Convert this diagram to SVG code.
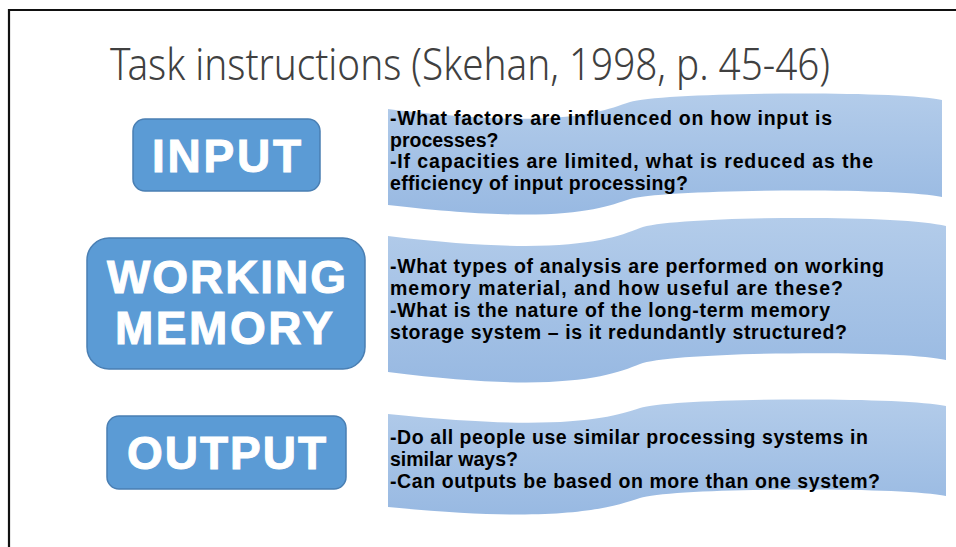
<svg xmlns="http://www.w3.org/2000/svg" width="956" height="547" viewBox="0 0 956 547">
  <style>
    .title { font-family: "Noto Sans", "Open Sans", sans-serif; font-weight: 300; font-size: 44px; fill: #404040; }
    .btn { fill: #5B9BD5; stroke: #4A7FB3; stroke-width: 1.5; }
    .btn-label { font-family: "Liberation Sans", Arial, sans-serif; font-weight: bold; font-size: 46px; fill: #FFFFFF; stroke: #FFFFFF; stroke-width: 1; }
    .wave { fill: url(#waveFill); }
    .note { font-family: "Liberation Sans", Arial, sans-serif; font-weight: bold; font-size: 19.5px; fill: #000000; }
  </style>
  <defs>
    <linearGradient id="waveFill" x1="0" y1="0" x2="0" y2="1">
      <stop offset="0" stop-color="#B3CCEA"/>
      <stop offset="1" stop-color="#98B9E2"/>
    </linearGradient>
  </defs>

  <rect x="0" y="0" width="956" height="547" fill="#FFFFFF"/>

  <!-- slide frame -->
  <path d="M9,547 L9,10 L956,10" fill="none" stroke="#111111" stroke-width="2.2"/>

  <text class="title" x="110" y="80" textLength="720" lengthAdjust="spacingAndGlyphs">Task instructions (Skehan, 1998, p. 45-46)</text>

  <!-- input stage -->
  <g id="input">
    <rect class="btn" x="133" y="119" width="187" height="72" rx="12"/>
    <text class="btn-label" x="152" y="172" textLength="149">INPUT</text>
  </g>
  <g id="input-notes">
    <path class="wave" d="M388,109 C560,130 600,112 630,102 C660,92 900,90 942,100 L942,197 C900,187 660,189 630,199 C600,209 560,225 388,205 Z"/>
    <text class="note" x="390" y="125" textLength="442">-What factors are influenced on how input is</text>
    <text class="note" x="390" y="147">processes?</text>
    <text class="note" x="390" y="168" textLength="483">-If capacities are limited, what is reduced as the</text>
    <text class="note" x="390" y="190" textLength="298">efficiency of input processing?</text>
  </g>

  <!-- working memory stage -->
  <g id="working-memory">
    <rect class="btn" x="87" y="238" width="278" height="131" rx="22"/>
    <text class="btn-label" x="107" y="293" textLength="239">WORKING</text>
    <text class="btn-label" x="115" y="344" textLength="218">MEMORY</text>
  </g>
  <g id="working-memory-notes">
    <path class="wave" d="M388,236 C560,257 610,240 640,228 C670,216 900,214 946,226 L946,360 C900,349 670,352 640,364 C610,376 560,394 388,372 Z"/>
    <text class="note" x="390" y="273" textLength="494">-What types of analysis are performed on working</text>
    <text class="note" x="390" y="295" textLength="453">memory material, and how useful are these?</text>
    <text class="note" x="390" y="317" textLength="440">-What is the nature of the long-term memory</text>
    <text class="note" x="390" y="339" textLength="457">storage system – is it redundantly structured?</text>
  </g>

  <!-- output stage -->
  <g id="output">
    <rect class="btn" x="107" y="416" width="239" height="73" rx="12"/>
    <text class="btn-label" x="127" y="469" textLength="199">OUTPUT</text>
  </g>
  <g id="output-notes">
    <path class="wave" d="M388,414 C560,432 610,418 640,408 C670,398 900,396 946,406 L946,496 C900,486 670,488 640,498 C610,508 560,524 388,507 Z"/>
    <text class="note" x="390" y="444" textLength="478">-Do all people use similar processing systems in</text>
    <text class="note" x="390" y="466">similar ways?</text>
    <text class="note" x="390" y="488" textLength="490">-Can outputs be based on more than one system?</text>
  </g>

  <!-- no connectors between the stages -->
  <g id="connectors"/>
</svg>
